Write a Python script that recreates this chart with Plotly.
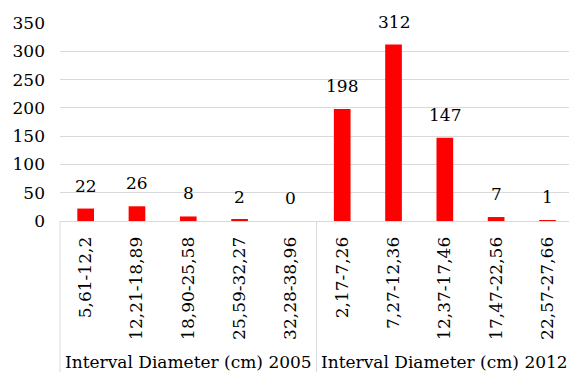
import plotly.graph_objects as go

groups = ["Interval Diameter (cm) 2005", "Interval Diameter (cm) 2012"]
cats_2005 = ["5,61-12,2", "12,21-18,89", "18,90-25,58", "25,59-32,27", "32,28-38,96"]
cats_2012 = ["2,17-7,26", "7,27-12,36", "12,37-17,46", "17,47-22,56", "22,57-27,66"]
vals_2005 = [22, 26, 8, 2, 0]
vals_2012 = [198, 312, 147, 7, 1]
y_ticks = [0, 50, 100, 150, 200, 250, 300, 350]

cats = cats_2005 + cats_2012
vals = vals_2005 + vals_2012

FONT = "DejaVu Serif"
FS = 17
GRID = "#d9d9d9"

fig = go.Figure()
fig.add_trace(go.Bar(x=cats, y=vals, marker=dict(color="#ff0000", line=dict(width=0)),
                     hoverinfo="skip"))

annotations = []
for c, v in zip(cats, vals):
    annotations.append(dict(x=c, y=v, xref="x", yref="y", text=str(v), showarrow=False,
                            yanchor="bottom", xanchor="center", yshift=11,
                            font=dict(family=FONT, size=FS, color="#000000")))
group_members = [cats_2005, cats_2012]
for g, members in zip(groups, group_members):
    annotations.append(dict(x=members[len(members) // 2], y=0, xref="x", yref="paper",
                            text=g, showarrow=False, yanchor="middle", xanchor="center",
                            yshift=-141, font=dict(family=FONT, size=FS, color="#000000")))

shapes = [
    dict(type="line", xref="x domain", yref="paper", x0=0, x1=0, y0=0, y1=-0.8,
         line=dict(color=GRID, width=1)),
    dict(type="line", xref="x", yref="paper", x0=len(cats_2005) - 0.5, x1=len(cats_2005) - 0.5,
         y0=0, y1=-0.8, line=dict(color=GRID, width=1)),
]

fig.update_layout(
    width=569, height=372,
    margin=dict(l=60, r=0, t=23, b=151),
    paper_bgcolor="white", plot_bgcolor="white",
    showlegend=False,
    bargap=0.675,
    font=dict(family=FONT, size=FS, color="#000000"),
    annotations=annotations,
    shapes=shapes,
    xaxis=dict(type="category", range=[-0.5, 9.42], tickangle=-90, ticks="",
               showline=True, linecolor=GRID, linewidth=1, showgrid=False,
               ticklabelstandoff=8,
               tickfont=dict(family=FONT, size=FS, color="#000000"), automargin=False),
    yaxis=dict(range=[0, 350], tickvals=y_ticks, showgrid=True, gridcolor=GRID, gridwidth=1,
               zeroline=False, showline=False, ticks="", ticklabelstandoff=14,
               tickfont=dict(family=FONT, size=FS, color="#000000"), automargin=False),
)

fig.write_html("out.html")
